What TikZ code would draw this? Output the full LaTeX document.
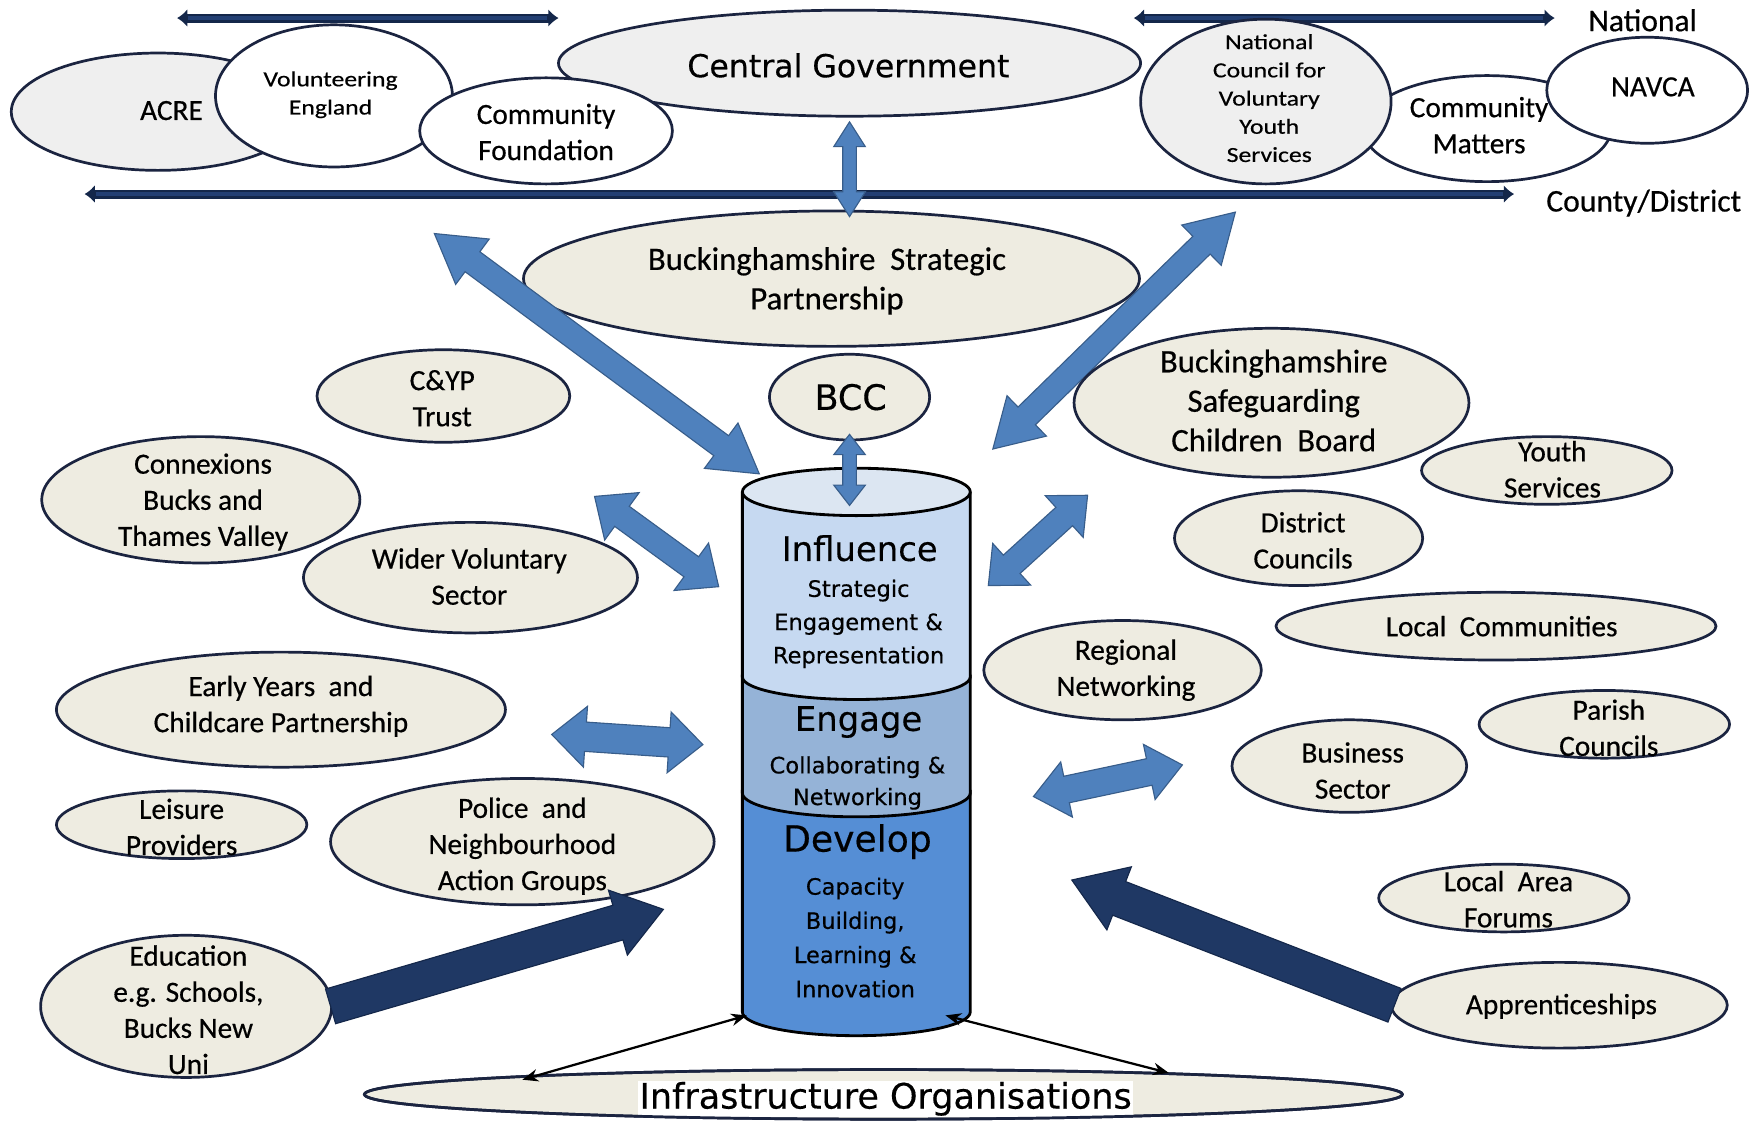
\documentclass[tikz,border=0pt]{standalone}
\usepackage{fontspec}
\setmainfont{Carlito}
\newfontfamily\calib[FakeBold=0.5]{Carlito}
\newfontfamily\calibw[FakeStretch=1.2,FakeBold=0.5]{Carlito}
\newfontfamily\dejav[FakeBold=0.4]{DejaVu Sans}
\usetikzlibrary{shapes.geometric,arrows.meta,calc}
\definecolor{ln}{HTML}{1B2440}
\definecolor{beige}{HTML}{EEECE1}
\definecolor{lgray}{HTML}{EFEFEF}
\definecolor{ablue}{HTML}{4F81BD}
\definecolor{abluD}{HTML}{385D8A}
\definecolor{navy}{HTML}{1F3864}
\definecolor{navyD}{HTML}{14274A}
\definecolor{navyL}{HTML}{233F73}
\definecolor{cInf}{HTML}{C6D9F1}
\definecolor{cInfTop}{HTML}{DCE6F2}
\definecolor{cEng}{HTML}{95B3D7}
\definecolor{cDev}{HTML}{558ED5}
\tikzset{
  ell/.style={ellipse, draw=ln, line width=2.4pt, fill=beige, inner sep=0pt},
  ellw/.style={ell, fill=white},
  ellg/.style={ell, fill=lgray},
  lbl/.style={align=center, inner sep=0pt, font=\calib\fontsize{26}{32}\selectfont},
  lblb/.style={lbl, font=\calib\fontsize{29}{35}\selectfont},
  lbls/.style={lbl, font=\calibw\fontsize{19}{25}\selectfont},
  dj/.style={align=center, inner sep=0pt, font=\dejav\fontsize{30}{34}\selectfont},
  djs/.style={align=center, inner sep=0pt, font=\dejav\fontsize{20}{29.5}\selectfont},
  natarr/.style={draw=navyD, line width=8pt, {Latex[length=9pt,width=16pt]}-{Latex[length=9pt,width=16pt]}},
  natin/.style={draw=navyL, line width=3pt, shorten >=10pt, shorten <=10pt},
  barr/.style={fill=ablue, draw=abluD, line width=1pt},
  narr/.style={fill=navy, draw=navyD, line width=1pt},
  thinarr/.style={draw=black, line width=2pt, {Stealth[length=14pt,width=11pt]}-{Stealth[length=14pt,width=11pt]}},
  cyl/.style={draw=black, line width=2.5pt}
}
% double block arrow: style, A, B, head length, head half width, shaft half width
\newcommand\blkdbl[6]{%
  \draw[#1] (#2)
  -- ($(#2)!#4!(#3)!#5!90:(#3)$)
  -- ($(#2)!#4!(#3)!#6!90:(#3)$)
  -- ($(#3)!#4!(#2)!#6!-90:(#2)$)
  -- ($(#3)!#4!(#2)!#5!-90:(#2)$)
  -- (#3)
  -- ($(#3)!#4!(#2)!#5!90:(#2)$)
  -- ($(#3)!#4!(#2)!#6!90:(#2)$)
  -- ($(#2)!#4!(#3)!#6!-90:(#3)$)
  -- ($(#2)!#4!(#3)!#5!-90:(#3)$)
  -- cycle;}
% single block arrow: style, base A, tip B, head length, head half width, shaft half width
\newcommand\blksgl[6]{%
  \draw[#1] ($(#2)!#6!90:(#3)$)
  -- ($(#3)!#4!(#2)!#6!-90:(#2)$)
  -- ($(#3)!#4!(#2)!#5!-90:(#2)$)
  -- (#3)
  -- ($(#3)!#4!(#2)!#5!90:(#2)$)
  -- ($(#3)!#4!(#2)!#6!90:(#2)$)
  -- ($(#2)!#6!-90:(#3)$)
  -- cycle;}
\begin{document}
\begin{tikzpicture}[x=1pt,y=-1pt]
\useasboundingbox (0,0) rectangle (1560,993);
\fill[white] (0,0) rectangle (1560,993);

% ---- level arrows
\coordinate (tlA) at (157,16); \coordinate (tlB) at (495,16);
\coordinate (trA) at (1005,16); \coordinate (trB) at (1378,16);
\coordinate (lnA) at (75,172); \coordinate (lnB) at (1342,172);
\draw[natarr] (tlA) -- (tlB); \draw[natin] (tlA) -- (tlB);
\draw[natarr] (trA) -- (trB); \draw[natin] (trA) -- (trB);
\draw[natarr] (lnA) -- (lnB); \draw[natin] (lnA) -- (lnB);
\node[lbl, font=\calib\fontsize{28}{32}\selectfont] (nat) at (1456,18) {National};
\node[lbl, font=\calib\fontsize{28}{32}\selectfont] (cty) at (1457,180) {County/District};

% ---- top ellipses
\node[ellg, minimum width=260pt, minimum height=104pt] (acre) at (140,99) {};
\node[ellw, minimum width=210pt, minimum height=126pt] (ve) at (296,85) {};
\node[ellg, minimum width=516pt, minimum height=94pt] (cg) at (753,56) {};
\node[ellw, minimum width=224pt, minimum height=94pt] (cf) at (484,116) {};
\node[ellw, minimum width=220pt, minimum height=94pt] (cm) at (1318,114) {};
\node[ellg, minimum width=222pt, minimum height=146pt] (ncv) at (1122,90) {};
\node[ellw, minimum width=178pt, minimum height=94pt] (navca) at (1460,80) {};
\node[lbl] at (152,98) {ACRE};
\node[lbls] at (293,84) {Volunteering\\England};
\node[lbl] at (484,117) {Community\\Foundation};
\node[dj, font=\dejav\fontsize{28}{32}\selectfont] at (752,58) {Central Government};
\node[lbls] at (1125,87) {National\\Council for\\Voluntary\\Youth\\Services};
\node[lbl] at (1311,111) {Community\\Matters};
\node[lbl] at (1465,77) {NAVCA};

% ---- county level
\node[ell, minimum width=546pt, minimum height=120pt] (bsp) at (737,247) {};
\node[lblb] at (733,249) {Buckinghamshire\ \ Strategic\\Partnership};
\coordinate (aT) at (753,108); \coordinate (aB) at (753,192);
\blkdbl{barr}{aT}{aB}{22pt}{14pt}{6pt}

% big diagonal arrows
\coordinate (bA) at (385,207); \coordinate (bB) at (673,420);
\coordinate (cA) at (1095,188); \coordinate (cB) at (880,398);
\blkdbl{barr}{bA}{bB}{42pt}{25pt}{11pt}
\blkdbl{barr}{cA}{cB}{42pt}{25pt}{11pt}

% left side ellipses
\node[ell, minimum width=224pt, minimum height=82pt] (cyp) at (393,351) {};
\node[ell, minimum width=142pt, minimum height=76pt] (bcc) at (753,352) {};
\node[ell, minimum width=282pt, minimum height=112pt] (conx) at (178,443) {};
\node[ell, minimum width=296pt, minimum height=98pt] (wvs) at (417,512) {};
\node[ell, minimum width=398pt, minimum height=102pt] (eyc) at (249,629) {};
\node[ell, minimum width=222pt, minimum height=60pt] (leis) at (161,731) {};
\node[ell, minimum width=340pt, minimum height=112pt] (pol) at (463,746) {};
\node[ell, minimum width=258pt, minimum height=126pt] (edu) at (165,892) {};
% right side ellipses
\node[ell, minimum width=350pt, minimum height=132pt] (bscb) at (1127,357) {};
\node[ell, minimum width=222pt, minimum height=60pt] (ys) at (1371,417) {};
\node[ell, minimum width=220pt, minimum height=84pt] (dc) at (1151,477) {};
\node[ell, minimum width=390pt, minimum height=60pt] (lc) at (1326,555) {};
\node[ell, minimum width=246pt, minimum height=88pt] (rn) at (995,594) {};
\node[ell, minimum width=222pt, minimum height=60pt] (pc) at (1422,642) {};
\node[ell, minimum width=208pt, minimum height=82pt] (bs) at (1196,679) {};
\node[ell, minimum width=222pt, minimum height=60pt] (laf) at (1333,796) {};
\node[ell, minimum width=298pt, minimum height=76pt] (app) at (1382,891) {};

\node[lbl] at (392,353) {C\&YP\\Trust};
\node[dj, font=\dejav\fontsize{31}{34}\selectfont] at (754,352) {BCC};
\node[lbl] at (180,445) {Connexions\\Bucks and\\Thames Valley};
\node[lbl] at (416,511) {Wider Voluntary\\Sector};
\node[lbl] at (249,626) {Early Years\ \ and\\Childcare Partnership};
\node[lbl] at (161,733) {Leisure\\Providers};
\node[lbl] at (463,750) {Police\ \ and\\Neighbourhood\\Action Groups};
\node[lbl] at (167,895) {Education\\e.g. Schools,\\Bucks New\\Uni};
\node[lblb] at (1129,355) {Buckinghamshire\\Safeguarding\\Children\ \ Board};
\node[lbl] at (1376,416) {Youth\\Services};
\node[lbl] at (1155,479) {District\\Councils};
\node[lbl] at (1331,555) {Local\ \ Communities};
\node[lbl] at (998,594) {Regional\\Networking};
\node[lbl] at (1426,645) {Parish\\Councils};
\node[lbl] at (1199,683) {Business\\Sector};
\node[lbl] at (1337,797) {Local\ \ Area\\Forums};
\node[lbl] at (1384,892) {Apprenticeships};

% ---- cylinder
\fill[cDev] (658,700) -- (658,897) arc[start angle=180, end angle=360, x radius=101pt, y radius=21pt] -- (860,700) -- cycle;
\draw[cyl] (658,700) -- (658,897) arc[start angle=180, end angle=360, x radius=101pt, y radius=21pt] -- (860,700);
\fill[cEng] (658,598) -- (658,703) arc[start angle=180, end angle=360, x radius=101pt, y radius=21pt] -- (860,598) -- cycle;
\draw[cyl] (658,598) -- (658,703) arc[start angle=180, end angle=360, x radius=101pt, y radius=21pt] -- (860,598);
\fill[cInf] (658,436) -- (658,600) arc[start angle=180, end angle=360, x radius=101pt, y radius=20pt] -- (860,436) -- cycle;
\draw[cyl] (658,436) -- (658,600) arc[start angle=180, end angle=360, x radius=101pt, y radius=20pt] -- (860,436);
\draw[cyl, fill=cInfTop] (759,436) ellipse[x radius=101pt, y radius=21pt];
\node[dj] (infl) at (762,486) {Influence};
\node[djs] at (761,553) {Strategic\\Engagement \&\\Representation};
\node[dj] (eng) at (761,640) {Engage};
\node[djs, font=\dejav\fontsize{20}{28}\selectfont] at (760,694) {Collaborating \&\\Networking};
\node[dj, font=\dejav\fontsize{32}{34}\selectfont] (dev) at (760,746) {Develop};
\node[djs, font=\dejav\fontsize{20}{30.3}\selectfont] at (758,831) {Capacity\\Building,\\Learning \&\\Innovation};

% BCC - cylinder arrow
\coordinate (dT) at (753,385); \coordinate (dB) at (753,448);
\blkdbl{barr}{dT}{dB}{18pt}{14pt}{6pt}

% side arrows
\coordinate (eA) at (527,440); \coordinate (eB) at (637,520);
\blkdbl{barr}{eA}{eB}{30pt}{26pt}{11pt}
\coordinate (fA) at (489,651); \coordinate (fB) at (623,660);
\blkdbl{barr}{fA}{fB}{30pt}{27pt}{13pt}
\coordinate (gA) at (876,519); \coordinate (gB) at (964,439);
\blkdbl{barr}{gA}{gB}{28pt}{25pt}{11pt}
\coordinate (hA) at (916,706); \coordinate (hB) at (1048,678);
\blkdbl{barr}{hA}{hB}{30pt}{25pt}{12pt}

% navy arrows
\coordinate (iA) at (293,892); \coordinate (iB) at (588,806);
\blksgl{narr}{iA}{iB}{42pt}{30pt}{16pt}
\coordinate (jA) at (1236,891); \coordinate (jB) at (950,780);
\blksgl{narr}{jA}{jB}{45pt}{30pt}{16pt}

% ---- infrastructure
\node[ell, minimum width=920pt, minimum height=44pt] (inf) at (783,970) {};
\node[dj, font=\dejav\fontsize{31}{34}\selectfont, fill=white, inner sep=1pt] at (785,974) {Infrastructure Organisations};
\draw[draw=ln, line width=2.4pt] (783,970) ellipse[x radius=460pt, y radius=22pt];
\coordinate (kA) at (662,900); \coordinate (kB) at (463,957);
\coordinate (mA) at (838,900); \coordinate (mB) at (1036,951);
\draw[thinarr] (kA) -- (kB);
\draw[thinarr] (mA) -- (mB);
\end{tikzpicture}
\end{document}
